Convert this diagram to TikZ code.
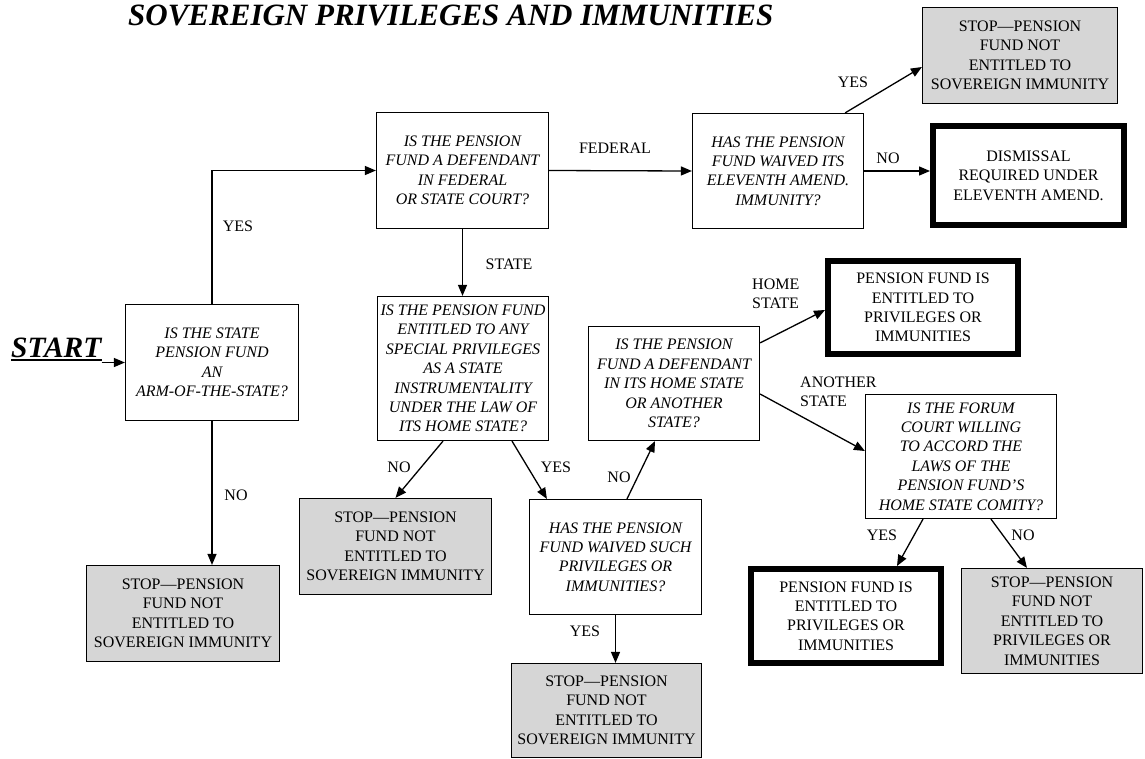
\documentclass[tikz,border=0pt]{standalone}
\usepackage{fontspec}
\setmainfont{Liberation Serif}
\usepackage{tikz}
\usetikzlibrary{arrows.meta,positioning}
\newcommand{\boxfont}{\fontsize{16}{19.4}\selectfont}
\tikzset{
  qbox/.style={draw, line width=1.2pt, font=\boxfont\itshape, align=center, inner sep=2pt},
  stopbox/.style={draw, line width=1.2pt, fill=black!16, font=\boxfont, align=center, inner sep=2pt},
  endbox/.style={draw, line width=6pt, font=\boxfont, align=center, inner sep=2pt},
  lbl/.style={font=\boxfont, align=left, inner sep=0pt},
  arr/.style={line width=1.3pt, -{Triangle[length=11pt,width=9pt]}}
}

\begin{document}
\begin{tikzpicture}[x=1pt,y=-1pt]
  \useasboundingbox (0,0) rectangle (1145,758);
  % title and start
  \node[anchor=base west, inner sep=0pt, font=\fontsize{31}{37}\selectfont\bfseries\itshape] (title) at (128,25) {SOVEREIGN PRIVILEGES AND IMMUNITIES};
  \node[anchor=base west, inner sep=0pt, font=\fontsize{29.5}{35}\selectfont\bfseries\itshape] (start) at (11,357) {START};
  \draw[line width=2.5pt] ([yshift=-3]start.base west) -- ([yshift=-3]start.base east);

  % questions
  \node[qbox, minimum width=173, minimum height=116] (arm) at (212,362.5) {IS THE STATE\\PENSION FUND\\AN\\ARM-OF-THE-STATE?};
  \node[qbox, minimum width=172, minimum height=116] (court) at (462.5,170.5) {IS THE PENSION\\FUND A DEFENDANT\\IN FEDERAL\\OR STATE COURT?};
  \node[qbox, minimum width=171, minimum height=115] (waive) at (778,171) {HAS THE PENSION\\FUND WAIVED ITS\\ELEVENTH AMEND.\\IMMUNITY?};
  \node[qbox, minimum width=171, minimum height=144] (special) at (463,368.5) {IS THE PENSION FUND\\ENTITLED TO ANY\\SPECIAL PRIVILEGES\\AS A STATE\\INSTRUMENTALITY\\UNDER THE LAW OF\\ITS HOME STATE?};
  \node[qbox, minimum width=172, minimum height=115] (waivepriv) at (615.5,557) {HAS THE PENSION\\FUND WAIVED SUCH\\PRIVILEGES OR\\IMMUNITIES?};
  \node[qbox, minimum width=171, minimum height=114] (forum) at (674,383.5) {IS THE PENSION\\FUND A DEFENDANT\\IN ITS HOME STATE\\OR ANOTHER\\STATE?};
  \node[qbox, minimum width=191, minimum height=124] (comity) at (961,456.5) {IS THE FORUM\\COURT WILLING\\TO ACCORD THE\\LAWS OF THE\\PENSION FUND'S\\HOME STATE COMITY?};

  % stops
  \node[stopbox, minimum width=193, minimum height=96] (stoparm) at (183,613.5) {STOP—PENSION\\FUND NOT\\ENTITLED TO\\SOVEREIGN IMMUNITY};
  \node[stopbox, minimum width=195, minimum height=96] (stopfed) at (1020,55.5) {STOP—PENSION\\FUND NOT\\ENTITLED TO\\SOVEREIGN IMMUNITY};
  \node[stopbox, minimum width=192, minimum height=96] (stopspec) at (395.5,546.5) {STOP—PENSION\\FUND NOT\\ENTITLED TO\\SOVEREIGN IMMUNITY};
  \node[stopbox, minimum width=190, minimum height=94] (stopwaive) at (606.5,710.5) {STOP—PENSION\\FUND NOT\\ENTITLED TO\\SOVEREIGN IMMUNITY};
  \node[stopbox, minimum width=181, minimum height=105] (stopcomity) at (1052,621) {STOP—PENSION\\FUND NOT\\ENTITLED TO\\PRIVILEGES OR\\IMMUNITIES};

  % outcomes
  \node[endbox, minimum width=191, minimum height=99] (dismiss) at (1028.5,175.5) {DISMISSAL\\REQUIRED UNDER\\ELEVENTH AMEND.};
  \node[endbox, minimum width=190, minimum height=93] (homeok) at (923,307.5) {PENSION FUND IS\\ENTITLED TO\\PRIVILEGES OR\\IMMUNITIES};
  \node[endbox, minimum width=190, minimum height=94] (comityok) at (846,616) {PENSION FUND IS\\ENTITLED TO\\PRIVILEGES OR\\IMMUNITIES};

  % connectors
  \draw[arr] (start.east |- arm.west) -- (arm.west);
  \draw[arr] (arm.north) |- (court.west);
  \draw[arr] (arm.south) -- (arm.south |- stoparm.north);
  \draw[arr] (court.east) -- (waive.west);
  \draw[arr] (court.south) -- (court.south |- special.north);
  \draw[arr] ([xshift=-19]waive.north east) -- ([yshift=-11.5]stopfed.west);
  \draw[arr] (waive.east) -- (waive.east -| dismiss.west);
  \draw[arr] ([xshift=-20]special.south) -- (stopspec.north);
  \draw[arr] ([xshift=49]special.south) -- ([xshift=18]waivepriv.north west);
  \draw[arr] (waivepriv.south) -- (waivepriv.south |- stopwaive.north);
  \draw[arr] ([xshift=11.5]waivepriv.north) -- ([xshift=-19]forum.south);
  \draw[arr] ([yshift=-17]forum.north east) -- ([yshift=-2.5]homeok.west);
  \draw[arr] ([yshift=-10.5]forum.east) -- ([yshift=5.5]comity.west);
  \draw[arr] ([xshift=-38]comity.south) -- ([xshift=51]comityok.north);
  \draw[arr] ([xshift=30]comity.south) -- ([xshift=-25]stopcomity.north);

  % branch labels
  \node[lbl] (lyes1) at (238,226) {YES};
  \node[lbl] (lno1) at (236,495) {NO};
  \node[lbl] (lfed) at (615,148) {FEDERAL};
  \node[lbl] (lstate) at (509,264) {STATE};
  \node[lbl] (lyes2) at (853,82) {YES};
  \node[lbl] (lno2) at (888,158) {NO};
  \node[lbl] (lno3) at (399,467) {NO};
  \node[lbl] (lyes3) at (556,467) {YES};
  \node[lbl] (lno4) at (619,477) {NO};
  \node[lbl] (lyes4) at (585,631) {YES};
  \node[lbl, anchor=west] (lhome) at (752,294) {HOME\\STATE};
  \node[lbl, anchor=west] (lanother) at (800,391.5) {ANOTHER\\STATE};
  \node[lbl] (lyes5) at (882,535) {YES};
  \node[lbl] (lno5) at (1023,535) {NO};
\end{tikzpicture}
\end{document}
